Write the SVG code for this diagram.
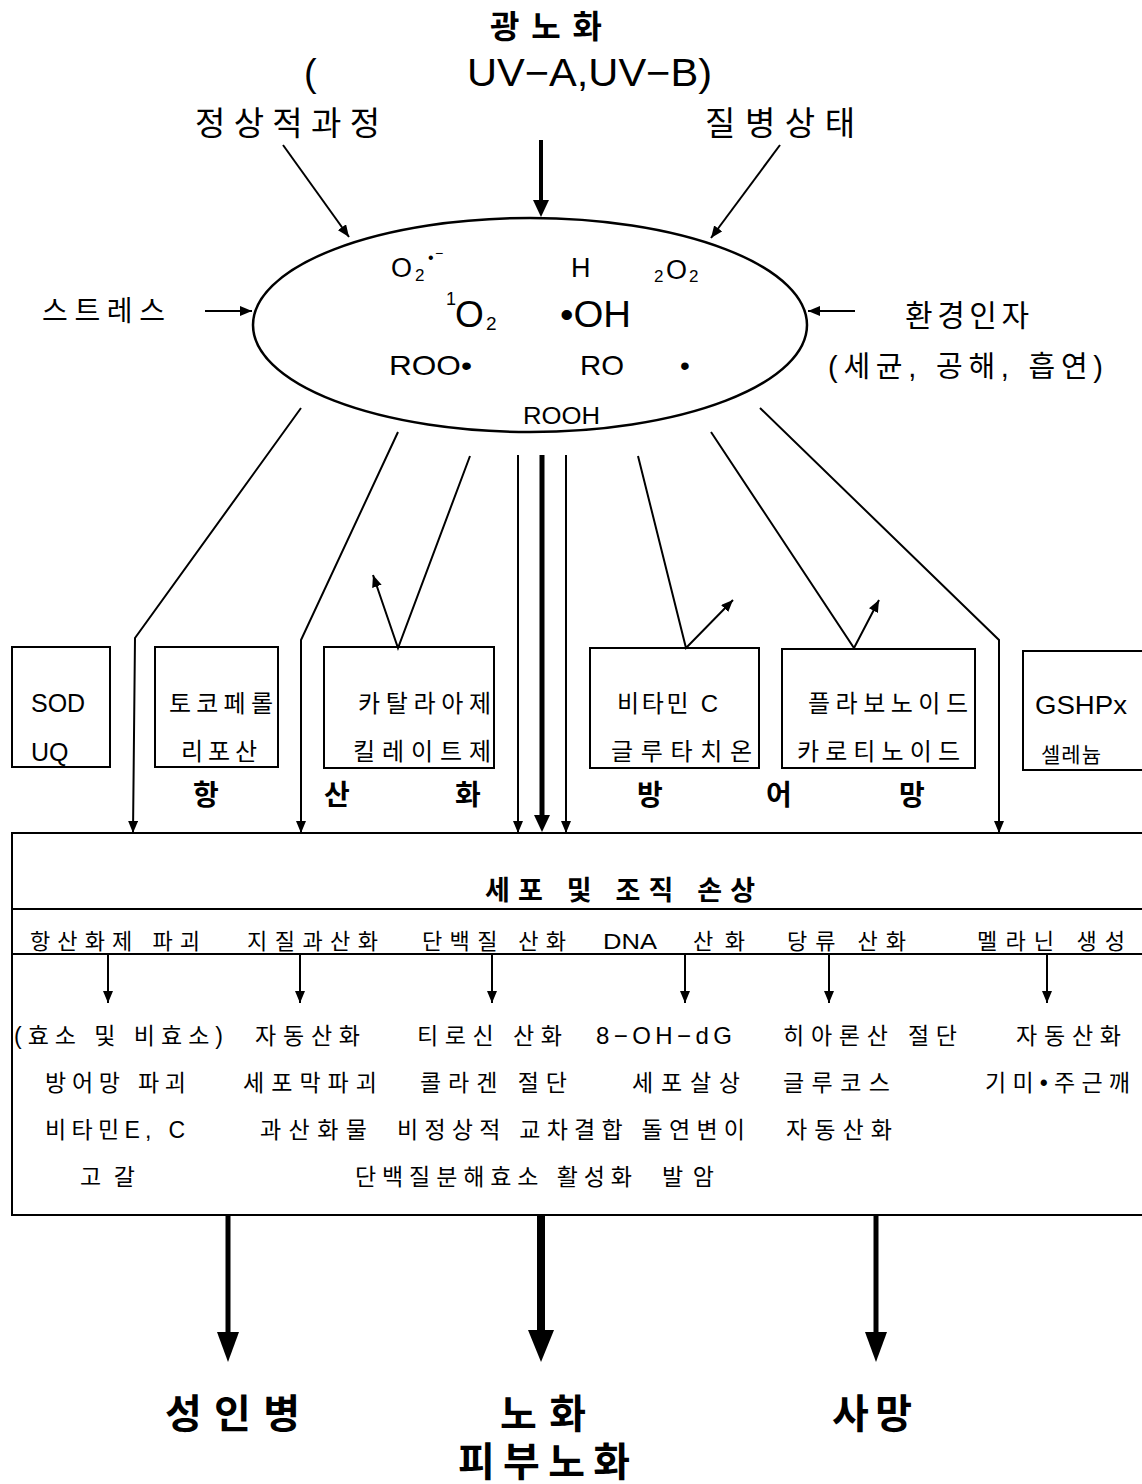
<svg xmlns="http://www.w3.org/2000/svg" width="1142" height="1484" viewBox="0 0 1142 1484">
<style>
.t{font-family:"Liberation Sans","Noto Sans CJK KR",sans-serif;fill:#000}
.b{font-weight:700}
.ln{stroke:#000;stroke-width:2;fill:none}
.box{stroke:#000;stroke-width:2;fill:#fff}
</style>
<defs>
<marker id="ah" viewBox="0 0 12 10" refX="12" refY="5" markerWidth="12" markerHeight="10" markerUnits="userSpaceOnUse" orient="auto"><path d="M0,0 L12,5 L0,10 Z"/></marker>
<marker id="ahT" viewBox="0 -8 17 16" refX="0" refY="0" markerWidth="17" markerHeight="16" markerUnits="userSpaceOnUse" orient="auto"><path d="M0,-8 L17,0 L0,8 Z"/></marker>
<marker id="ahB" viewBox="0 -11 30 22" refX="0" refY="0" markerWidth="30" markerHeight="22" markerUnits="userSpaceOnUse" orient="auto"><path d="M0,-11 L30,0 L0,11 Z"/></marker>
<marker id="ahBB" viewBox="0 -13 32 26" refX="0" refY="0" markerWidth="32" markerHeight="26" markerUnits="userSpaceOnUse" orient="auto"><path d="M0,-13 L32,0 L0,13 Z"/></marker>
</defs>
<rect width="1142" height="1484" fill="#fff"/>

<g id="top-labels">
<text class="t b" x="490" y="38" font-size="32" textLength="112">광노화</text>
<text class="t" x="304" y="86" font-size="38">(</text>
<text class="t" x="467" y="86" font-size="38" textLength="245" lengthAdjust="spacingAndGlyphs">UV−A,UV−B)</text>
<text class="t" x="195" y="135" font-size="33" textLength="185">정상적과정</text>
<text class="t" x="705" y="135" font-size="33" textLength="150">질병상태</text>
</g>

<g id="stress"><text class="t" x="42" y="321" font-size="28" textLength="123">스트레스</text></g>
<g id="environment">
<text class="t" x="905" y="326" font-size="30" textLength="124">환경인자</text>
<text class="t" x="828" y="377" font-size="29" textLength="275">(세균, 공해, 흡연)</text>
</g>

<g id="ros">
<ellipse cx="530" cy="325" rx="277" ry="107" fill="none" stroke="#000" stroke-width="2.5"/>
<text class="t" font-size="27"><tspan x="391" y="277">O</tspan><tspan x="415" y="281" font-size="17">2</tspan><tspan x="428" y="263" font-size="16">•</tspan><tspan x="435" y="258" font-size="14">−</tspan></text>
<text class="t" x="571" y="277" font-size="27">H</text>
<text class="t" font-size="27"><tspan x="654" y="282" font-size="17">2</tspan><tspan x="666" y="279">O</tspan><tspan x="689" y="282" font-size="17">2</tspan></text>
<text class="t" font-size="37"><tspan x="446" y="305" font-size="18">1</tspan><tspan x="455" y="327">O</tspan><tspan x="486" y="330" font-size="19">2</tspan></text>
<text class="t" x="560" y="327" font-size="37" textLength="71" lengthAdjust="spacingAndGlyphs">•OH</text>
<text class="t" x="389" y="375" font-size="28" textLength="83" lengthAdjust="spacingAndGlyphs">ROO•</text>
<text class="t" x="580" y="375" font-size="28" textLength="44" lengthAdjust="spacingAndGlyphs">RO</text>
<text class="t" x="680" y="375" font-size="28">•</text>
<text class="t" x="523" y="424" font-size="23" textLength="77" lengthAdjust="spacingAndGlyphs">ROOH</text>
</g>

<g id="box-sod"><rect class="box" x="12" y="647" width="98" height="120"/>
<text class="t" x="31" y="712" font-size="25">SOD</text><text class="t" x="31" y="761" font-size="25">UQ</text></g>
<g id="box-toco"><rect class="box" x="155" y="647" width="123" height="120"/>
<text class="t" x="169" y="712" font-size="24" textLength="104">토코페롤</text><text class="t" x="181" y="760" font-size="24" textLength="76">리포산</text></g>
<g id="box-catalase"><rect class="box" x="324" y="647" width="170" height="121"/>
<text class="t" x="358" y="712" font-size="24" textLength="133">카탈라아제</text><text class="t" x="353" y="760" font-size="24" textLength="138">킬레이트제</text></g>
<g id="box-vitc"><rect class="box" x="590" y="648" width="169" height="120"/>
<text class="t" x="617" y="712" font-size="24" textLength="101">비타민 C</text><text class="t" x="611" y="760" font-size="24" textLength="141">글루타치온</text></g>
<g id="box-flavo"><rect class="box" x="782" y="649" width="193" height="119"/>
<text class="t" x="808" y="712" font-size="24" textLength="160">플라보노이드</text><text class="t" x="797" y="760" font-size="24" textLength="163">카로티노이드</text></g>
<g id="box-gshpx"><rect class="box" x="1023" y="651" width="140" height="119"/>
<text class="t" x="1035" y="714" font-size="25" textLength="92" lengthAdjust="spacingAndGlyphs">GSHPx</text><text class="t" x="1041" y="762" font-size="21" textLength="60">셀레늄</text></g>

<g id="defense-label">
<text class="t b" x="193" y="805" font-size="28">항</text>
<text class="t b" x="324" y="805" font-size="28">산</text>
<text class="t b" x="455" y="805" font-size="28">화</text>
<text class="t b" x="637" y="805" font-size="28">방</text>
<text class="t b" x="766" y="805" font-size="28">어</text>
<text class="t b" x="899" y="805" font-size="28">망</text>
</g>

<g id="damage">
<rect class="box" x="12" y="833" width="1150" height="382"/>
<line class="ln" x1="12" y1="909" x2="1142" y2="909"/>
<line class="ln" x1="12" y1="954" x2="1142" y2="954"/>
<text class="t b" x="485" y="900" font-size="27" textLength="270">세포 및 조직 손상</text>
<g font-size="22">
<text class="t" x="30" y="949" textLength="170">항산화제 파괴</text>
<text class="t" x="247" y="949" textLength="131">지질과산화</text>
<text class="t" x="422" y="949" textLength="144">단백질 산화</text>
<text class="t" x="603" y="949" textLength="54" lengthAdjust="spacingAndGlyphs">DNA</text>
<text class="t" x="693" y="949" textLength="52">산화</text>
<text class="t" x="787" y="949" textLength="119">당류 산화</text>
<text class="t" x="977" y="949" textLength="148">멜라닌 생성</text>
</g>
<g font-size="23">
<text class="t" x="14" y="1044" textLength="209">(효소 및 비효소)</text>
<text class="t" x="255" y="1044" textLength="105">자동산화</text>
<text class="t" x="417" y="1044" textLength="145">티로신 산화</text>
<text class="t" x="596" y="1044" font-size="24" textLength="136">8−OH−dG</text>
<text class="t" x="783" y="1044" textLength="174">히아론산 절단</text>
<text class="t" x="1016" y="1044" textLength="105">자동산화</text>
<text class="t" x="45" y="1091" textLength="141">방어망 파괴</text>
<text class="t" x="243" y="1091" textLength="134">세포막파괴</text>
<text class="t" x="420" y="1091" textLength="147">콜라겐 절단</text>
<text class="t" x="632" y="1091" textLength="108">세포살상</text>
<text class="t" x="783" y="1091" textLength="107">글루코스</text>
<text class="t" x="985" y="1091" textLength="145">기미•주근깨</text>
<text class="t" x="45" y="1138" textLength="140">비타민E, C</text>
<text class="t" x="260" y="1138" textLength="107">과산화물</text>
<text class="t" x="397" y="1138" textLength="348">비정상적 교차결합 돌연변이</text>
<text class="t" x="786" y="1138" textLength="106">자동산화</text>
<text class="t" x="80" y="1185" textLength="55">고갈</text>
<text class="t" x="355" y="1185" textLength="277">단백질분해효소 활성화</text>
<text class="t" x="662" y="1185" textLength="52">발암</text>
</g>
</g>

<g id="outcomes">
<text class="t b" x="165" y="1428" font-size="40" textLength="135">성인병</text>
<text class="t b" x="500" y="1428" font-size="40" textLength="86">노화</text>
<text class="t b" x="832" y="1428" font-size="40" textLength="80">사망</text>
<text class="t b" x="458" y="1476" font-size="40" textLength="172">피부노화</text>
</g>

<g id="connectors">
<line class="ln" x1="283" y1="145" x2="349" y2="237" marker-end="url(#ah)"/>
<line x1="541" y1="140" x2="541" y2="200" stroke="#000" stroke-width="4" marker-end="url(#ahT)"/>
<line class="ln" x1="780" y1="145" x2="711" y2="238" marker-end="url(#ah)"/>
<line class="ln" x1="205" y1="311" x2="252" y2="311" marker-end="url(#ah)"/>
<line class="ln" x1="855" y1="311" x2="808" y2="311" marker-end="url(#ah)"/>
<polyline class="ln" points="301,408 135,638 133,833" marker-end="url(#ah)"/>
<polyline class="ln" points="398,432 301,640 301,833" marker-end="url(#ah)"/>
<polyline class="ln" points="470,456 398,648 373,575" marker-end="url(#ah)"/>
<line class="ln" x1="518" y1="455" x2="518" y2="833" marker-end="url(#ah)"/>
<line x1="542" y1="455" x2="542" y2="815" stroke="#000" stroke-width="5" marker-end="url(#ahT)"/>
<line class="ln" x1="566" y1="455" x2="566" y2="833" marker-end="url(#ah)"/>
<polyline class="ln" points="638,456 686,648 733,600" marker-end="url(#ah)"/>
<polyline class="ln" points="711,432 854,648 879,600" marker-end="url(#ah)"/>
<polyline class="ln" points="760,408 999,640 999,833" marker-end="url(#ah)"/>
<line class="ln" x1="108" y1="955" x2="108" y2="1003" marker-end="url(#ah)"/>
<line class="ln" x1="300" y1="955" x2="300" y2="1003" marker-end="url(#ah)"/>
<line class="ln" x1="492" y1="955" x2="492" y2="1003" marker-end="url(#ah)"/>
<line class="ln" x1="685" y1="955" x2="685" y2="1003" marker-end="url(#ah)"/>
<line class="ln" x1="829" y1="955" x2="829" y2="1003" marker-end="url(#ah)"/>
<line class="ln" x1="1047" y1="955" x2="1047" y2="1003" marker-end="url(#ah)"/>
<line x1="228" y1="1215" x2="228" y2="1332" stroke="#000" stroke-width="5" marker-end="url(#ahB)"/>
<line x1="541" y1="1215" x2="541" y2="1330" stroke="#000" stroke-width="8" marker-end="url(#ahBB)"/>
<line x1="876" y1="1215" x2="876" y2="1332" stroke="#000" stroke-width="5" marker-end="url(#ahB)"/>
</g>
</svg>
